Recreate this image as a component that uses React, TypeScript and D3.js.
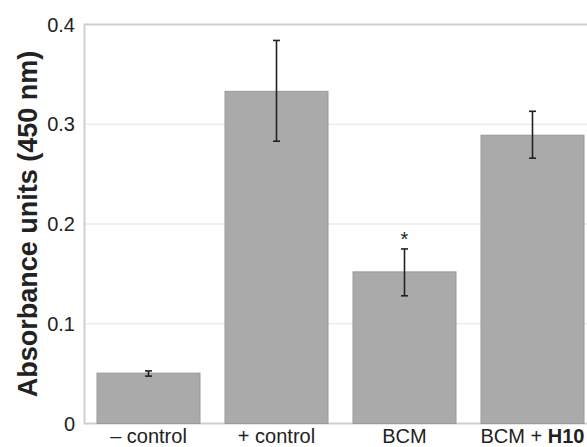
import React from "react";
import * as d3 from "d3";

const categories = ["– control", "+ control", "BCM", "BCM + H10"];
const values = [0.0505, 0.333, 0.152, 0.289];
const errLow = [0.0475, 0.283, 0.128, 0.266];
const errHigh = [0.0527, 0.384, 0.175, 0.313];
const significant = [false, false, true, false];
const yTicks = [0, 0.1, 0.2, 0.3, 0.4];
const yTickLabels = ["0", "0.1", "0.2", "0.3", "0.4"];

const W = 587;
const H = 447;
const left = 84.5;
const top = 24.5;
const bottom = 423.5;

export default function App() {
  const x = d3.scaleBand<number>().domain(d3.range(categories.length)).range([left, left + 512]).paddingInner(25 / 128).paddingOuter(12.5 / 128);
  const y = d3.scaleLinear().domain([0, 0.4]).range([bottom, top]);
  const font = "Liberation Sans, Arial, sans-serif";
  return (
    <svg width={W} height={H} style={{ position: "absolute", left: 0, top: 0, display: "block" }} fontFamily={font}>
      <rect width={W} height={H} fill="#fff" />
      {yTicks.filter((t) => t > 0).map((t) => (
        <line key={t} x1={left} x2={W} y1={y(t)} y2={y(t)} stroke={t === 0.4 ? "#cfcfcf" : "#e3e3e3"} strokeWidth={t === 0.4 ? 2 : 1.2} />
      ))}
      <line x1={left} x2={left} y1={top - 1} y2={bottom + 1} stroke="#cfcfcf" strokeWidth={2} />
      <line x1={left} x2={W} y1={bottom} y2={bottom} stroke="#cfcfcf" strokeWidth={2} />
      {yTicks.map((t, i) => (
        <text key={t} x={75} y={y(t)} dy="0.35em" textAnchor="end" fontSize={20} fill="#222">
          {yTickLabels[i]}
        </text>
      ))}
      {values.map((v, i) => {
        const bx = x(i)!;
        const cx = bx + x.bandwidth() / 2;
        return (
          <g key={i}>
            <rect x={bx} y={y(v)} width={x.bandwidth()} height={y(0) - y(v)} fill="#aaaaaa" stroke="#999" strokeWidth={1} />
            <line x1={cx} x2={cx} y1={y(errHigh[i])} y2={y(errLow[i])} stroke="#222" strokeWidth={1.6} />
            <line x1={cx - 3.5} x2={cx + 3.5} y1={y(errHigh[i])} y2={y(errHigh[i])} stroke="#222" strokeWidth={1.6} />
            <line x1={cx - 3.5} x2={cx + 3.5} y1={y(errLow[i])} y2={y(errLow[i])} stroke="#222" strokeWidth={1.6} />
            {significant[i] && (
              <text x={cx} y={y(errHigh[i]) - 3} textAnchor="middle" fontSize={20} fill="#222">*</text>
            )}
            <text x={cx} y={443} textAnchor="middle" fontSize={20} fill="#222">
              {i === 3 ? (
                <>
                  BCM + <tspan fontWeight="bold">H10</tspan>
                </>
              ) : (
                categories[i]
              )}
            </text>
          </g>
        );
      })}
      <text transform={`translate(37,${(top + bottom) / 2}) rotate(-90)`} textAnchor="middle" fontSize={27} fontWeight="bold" fill="#222">
        Absorbance units (450 nm)
      </text>
    </svg>
  );
}
